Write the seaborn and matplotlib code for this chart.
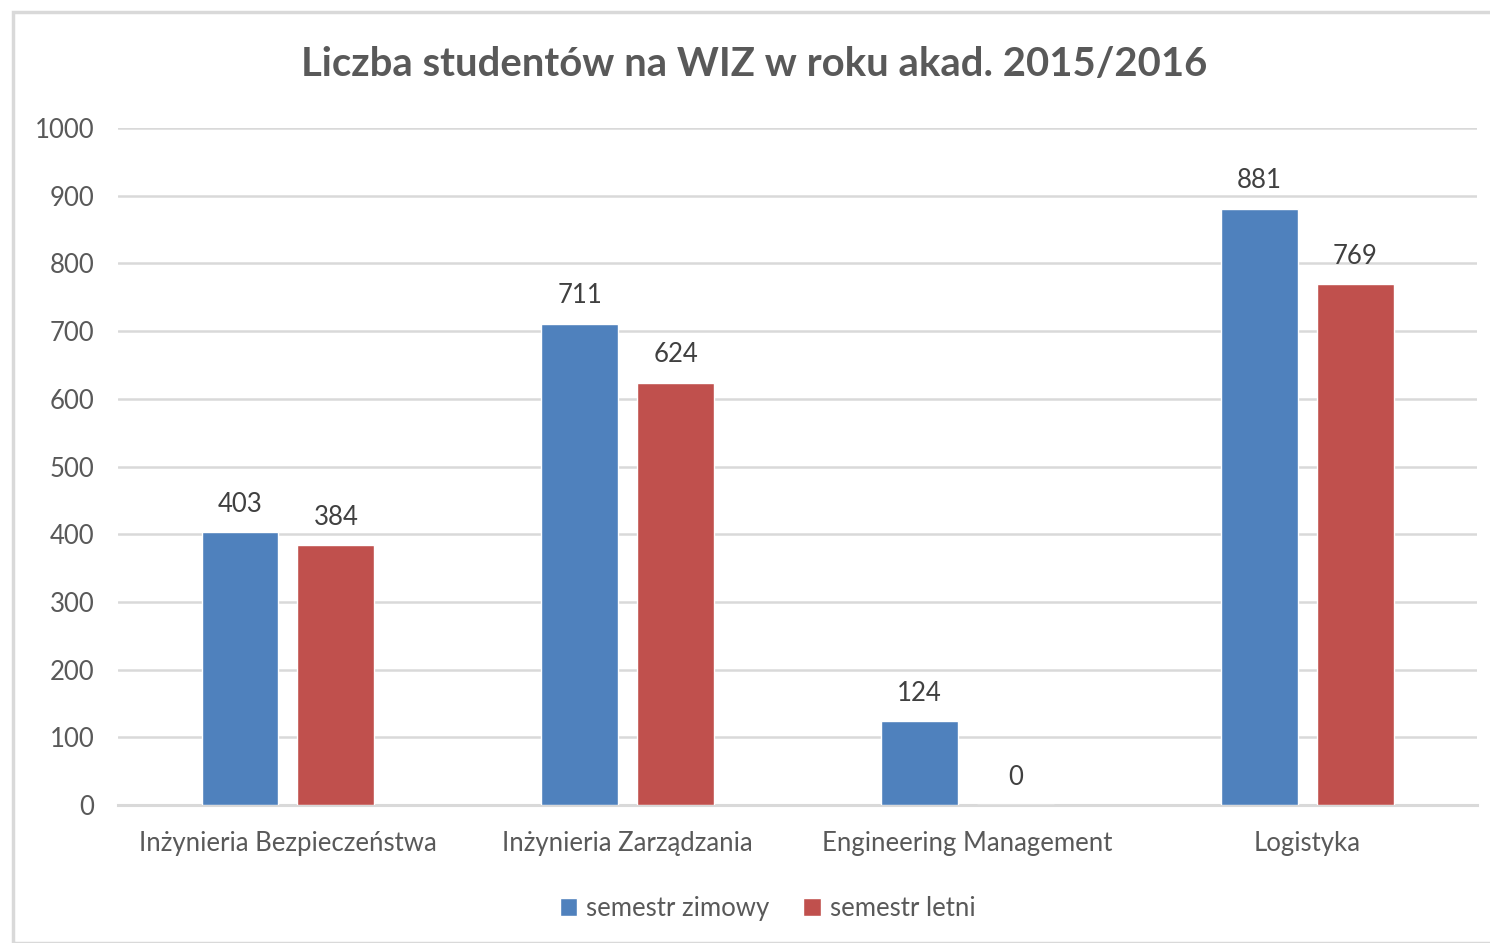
import matplotlib
matplotlib.use("Agg")
import matplotlib.pyplot as plt
import seaborn as sns
import pandas as pd
from matplotlib.patches import Rectangle

sns.set_theme(style="white")
plt.rcParams['font.family'] = ['Lato', 'DejaVu Sans']

# data
kierunki = ["Inżynieria Bezpieczeństwa", "Inżynieria Zarządzania",
            "Engineering Management", "Logistyka"]
zimowy = [403, 711, 124, 881]
letni = [384, 624, 0, 769]
semestry = ["semestr zimowy", "semestr letni"]
kolory = ["#4F81BD", "#C0504D"]
yticks = [0, 100, 200, 300, 400, 500, 600, 700, 800, 900, 1000]

df = pd.DataFrame({
    "kierunek": kierunki * 2,
    "semestr": [semestry[0]] * len(kierunki) + [semestry[1]] * len(kierunki),
    "liczba": zimowy + letni,
})

fig = plt.figure(figsize=(14.9, 9.43), dpi=100)
ax = fig.add_axes([0.0792, 0.1463, 0.9121, 0.718])

# outer chart frame
fig.patches.append(Rectangle((13 / 1490, 0), 1.0, 1 - 12 / 943, transform=fig.transFigure,
                             fill=False, edgecolor="#d9d9d9", linewidth=2.5, zorder=0))

sns.barplot(data=df, x="kierunek", y="liczba", hue="semestr", palette=kolory,
            width=0.565, gap=0.2, ax=ax, saturation=1, zorder=3)

for cont in ax.containers:
    ax.bar_label(cont, padding=11, fontsize=18.5, color="#404040")

ax.set_ylim(0, 1000)
ax.set_xlim(-0.5, 3.5)
ax.set_yticks(yticks)
ax.set_yticklabels([str(t) for t in yticks], fontsize=18.5, color="#595959")
ax.tick_params(axis="y", pad=17, length=0)
ax.tick_params(axis="x", pad=19, length=0, labelsize=18.5, labelcolor="#595959")
ax.yaxis.grid(True, color="#d9d9d9", linewidth=1.8, zorder=0)
ax.set_axisbelow(True)
for s in ["top", "right", "left"]:
    ax.spines[s].set_visible(False)
ax.spines["bottom"].set_color("#d9d9d9")
ax.spines["bottom"].set_linewidth(2.2)
ax.set_xlabel("")
ax.set_ylabel("")

fig.suptitle("Liczba studentów na WIZ w roku akad. 2015/2016", x=0.506, y=0.951,
             fontsize=28.8, fontweight="bold", color="#595959")

ax.legend(loc="upper center", bbox_to_anchor=(0.478, -0.1), ncol=2, frameon=False,
          fontsize=18.5, handlelength=0.7, handleheight=0.7, handletextpad=0.35,
          columnspacing=1.3, labelcolor="#595959")

fig.savefig("out.png", dpi=100)
